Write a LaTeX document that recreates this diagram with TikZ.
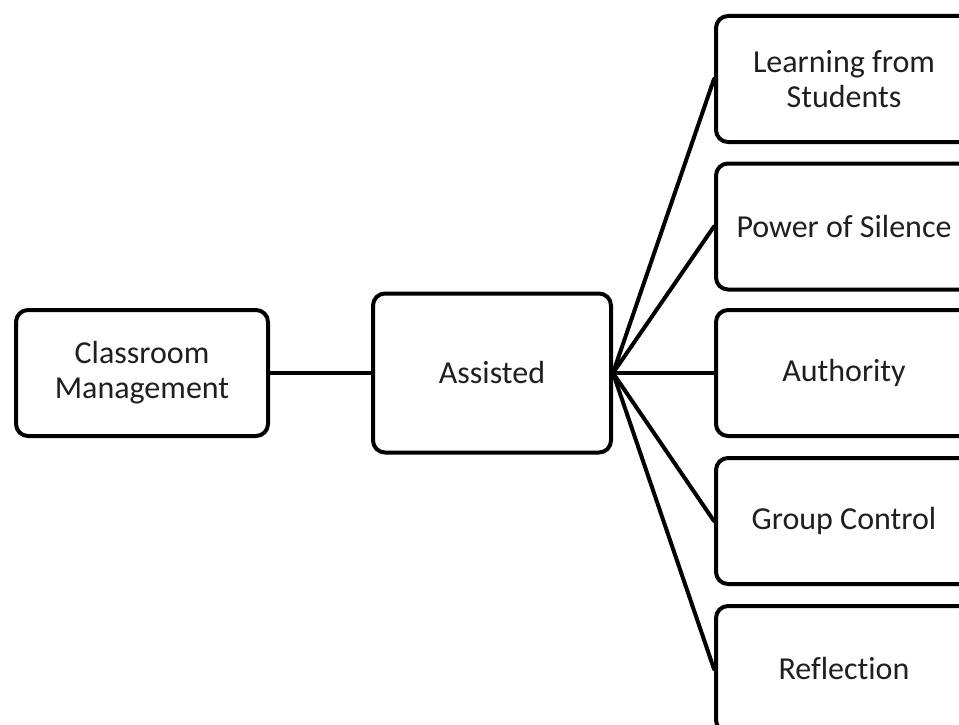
\documentclass[tikz,border=0pt]{standalone}
\usepackage{fontspec}
\setmainfont{Carlito}[Ligatures=NoCommon]
\begin{document}
\begin{tikzpicture}[x=1pt,y=-1pt,
  box/.style={draw=black, line width=4pt, rounded corners=12pt, fill=white,
    align=center, text=black!88, inner sep=0pt,
    font=\fontsize{32}{35}\selectfont},
  link/.style={draw=black, line width=4pt}]
  \useasboundingbox (0,0) rectangle (959,725);
  \clip (0,0) rectangle (959,725);
  % left-hand chain
  \node[box, minimum width=252pt, minimum height=126pt] (cm) at (142,373) {Classroom\\Management};
  \node[box, minimum width=238pt, minimum height=159pt] (as) at (492,373) {Assisted};
  % right-hand column (runs off the right edge)
  \tikzset{rbox/.style={box, minimum width=256pt, minimum height=126pt}}
  \node[rbox] (lfs) at (844,79)    {Learning from\\Students};
  \node[rbox] (pos) at (844,226.5) {Power of Silence};
  \node[rbox] (aut) at (844,373)   {Authority};
  \node[rbox] (grp) at (844,521)   {Group Control};
  \node[rbox] (ref) at (844,669)   {Reflection};
  % connectors
  \draw[link] (cm.east) -- (as.west);
  \foreach \t in {lfs,pos,aut,grp,ref}
    \draw[link, line cap=round] (as.east) -- (\t.west);
\end{tikzpicture}
\end{document}
